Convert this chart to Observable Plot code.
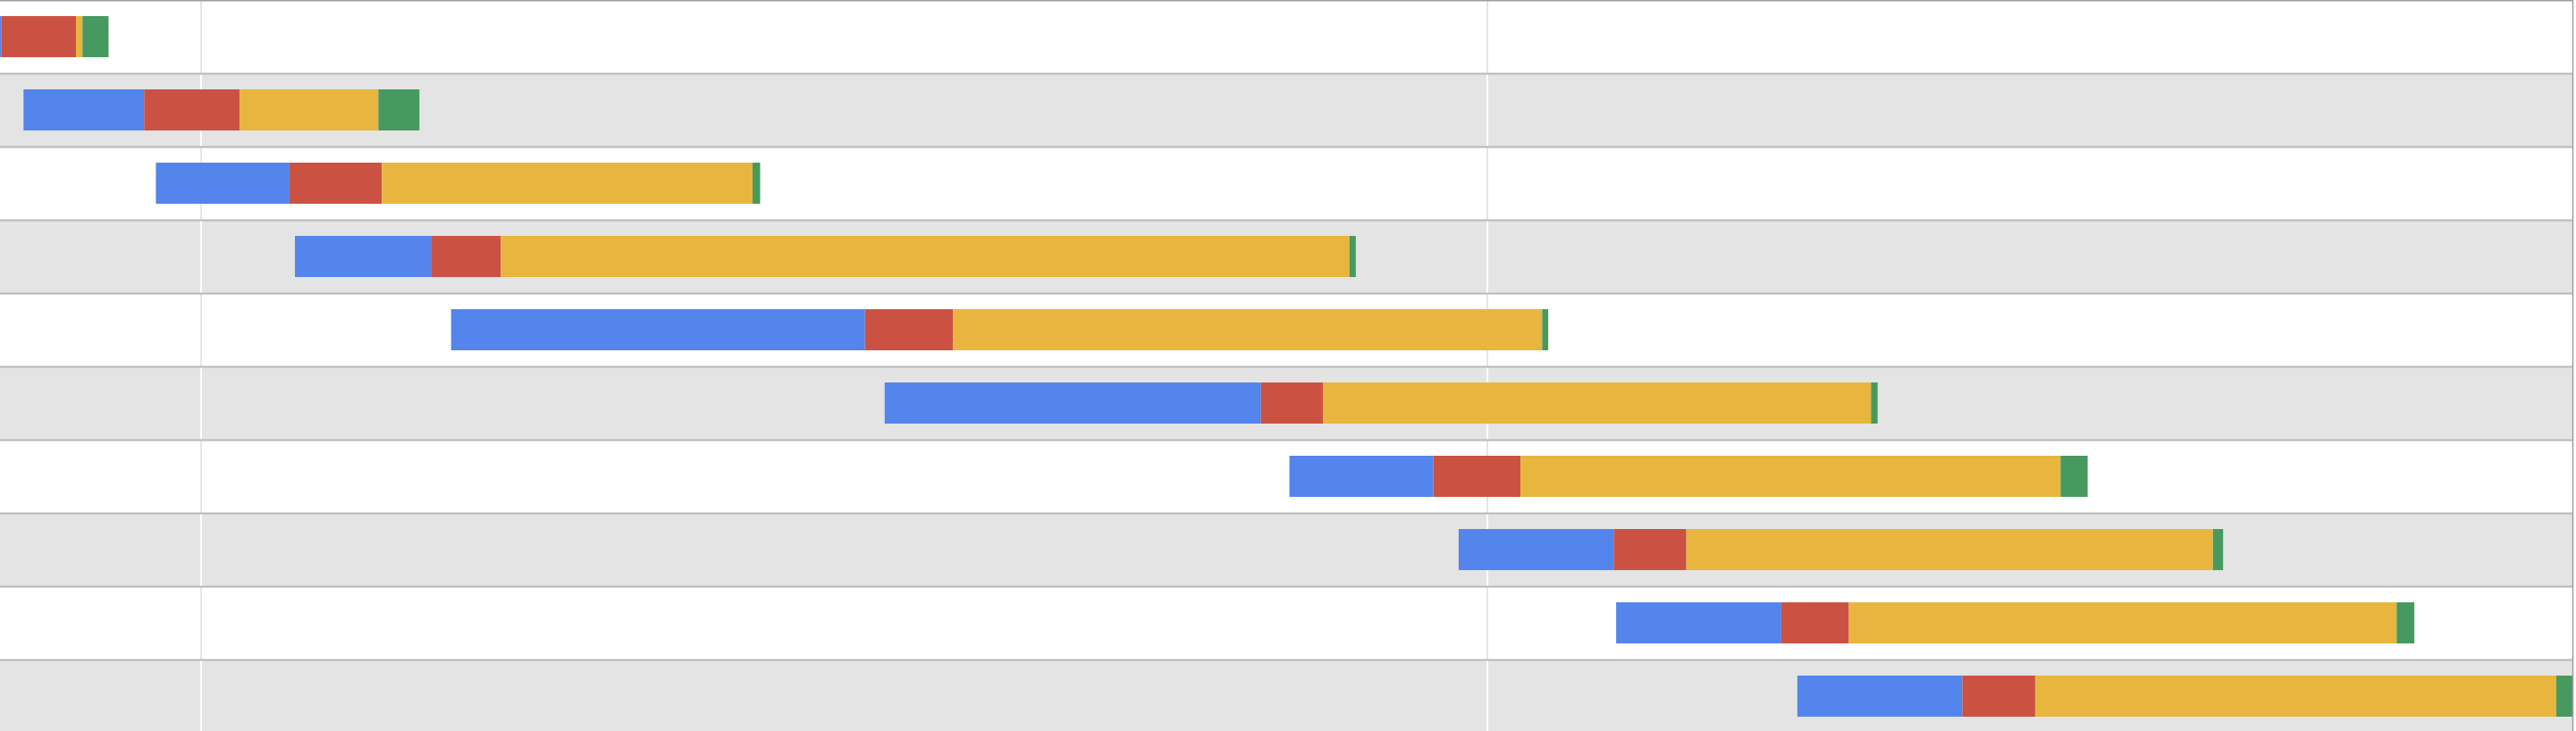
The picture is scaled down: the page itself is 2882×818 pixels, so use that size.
<!DOCTYPE html>
<html><head><meta charset="utf-8">
<script src="https://cdn.jsdelivr.net/npm/d3@7"></script>
<script src="https://cdn.jsdelivr.net/npm/@observablehq/plot@0.6"></script>
<style>html,body{margin:0;padding:0;background:#fff;} #chart svg{display:block;}</style>
</head><body><div id="chart"></div>
<script>
// Row indices (top to bottom)
const rows = [0, 1, 2, 3, 4, 5, 6, 7, 8, 9];
// Segment boundaries per row (ms)
const starts    = [0,    18.3,  121.2, 229.3,  350.7,  687.8,  1002.5, 1134.1, 1256.5, 1397.4];
const blueEnd   = [0.9,  112.1, 225.1, 335.1,  672.5,  980.3,  1114.4, 1254.6, 1384.9, 1525.7];
const redEnd    = [59.1, 186.2, 296.9, 389.4,  741.0,  1028.8, 1182.1, 1311.1, 1437.5, 1582.3];
const yellowEnd = [64.1, 294.2, 585.1, 1049.2, 1199.0, 1454.7, 1602.0, 1720.5, 1863.3, 1987.5];
const greenEnd  = [84.4, 326.1, 591.0, 1054.1, 1203.7, 1459.8, 1623.1, 1728.4, 1877.1, 2010];
const gridTicks = [156, 1156];
const xDomain = [0, 2000];
const segmentNames = ["Phase 1", "Phase 2", "Phase 3", "Phase 4"];
const segmentColors = ["#5385ec", "#cb5242", "#e8b63e", "#479a5f"];

const segments = [];
rows.forEach((r, i) => {
  const b = [starts[i], blueEnd[i], redEnd[i], yellowEnd[i], greenEnd[i]];
  segmentNames.forEach((name, k) => segments.push({row: r, name, x1: b[k], x2: b[k + 1]}));
});
const evenRows = rows.filter(r => r % 2 === 0);
const oddRows = rows.filter(r => r % 2 === 1);
const gridEven = evenRows.flatMap(r => gridTicks.map(t => ({row: r, t})));
const gridOdd = oddRows.flatMap(r => gridTicks.map(t => ({row: r, t})));

const chart = Plot.plot({
  width: 2882,
  height: 818,
  marginTop: 0, marginLeft: 0, marginBottom: 0, marginRight: 4,
  x: {domain: xDomain, axis: null},
  y: {domain: [0, rows.length], range: [0, 820], axis: null},
  color: {type: "ordinal", domain: segmentNames, range: segmentColors},
  style: {overflow: "hidden", background: "#fff"},
  marks: [
    Plot.rect(evenRows, {y1: d => d, y2: d => d + 1, fill: "#ffffff"}),
    Plot.rect(oddRows, {y1: d => d, y2: d => d + 1, fill: "#e4e4e4"}),
    Plot.ruleX(gridEven, {x: "t", y1: "row", y2: d => d.row + 1, stroke: "#e6e6e6", strokeWidth: 2}),
    Plot.ruleX(gridOdd, {x: "t", y1: "row", y2: d => d.row + 1, stroke: "#ffffff", strokeWidth: 2}),
    Plot.ruleY(rows.slice(1), {y: d => d, stroke: "#b8b8b8", strokeWidth: 2}),
    Plot.rectX(segments, {x1: "x1", x2: "x2", y1: "row", y2: d => d.row + 1, fill: "name", insetTop: 18, insetBottom: 18, clip: true}),
    Plot.ruleY([0], {stroke: "#9e9e9e", strokeWidth: 2}),
    Plot.ruleX([xDomain[1]], {stroke: "#9e9e9e", strokeWidth: 1.5})
  ]
});
document.getElementById("chart").appendChild(chart);
</script>
</body></html>
